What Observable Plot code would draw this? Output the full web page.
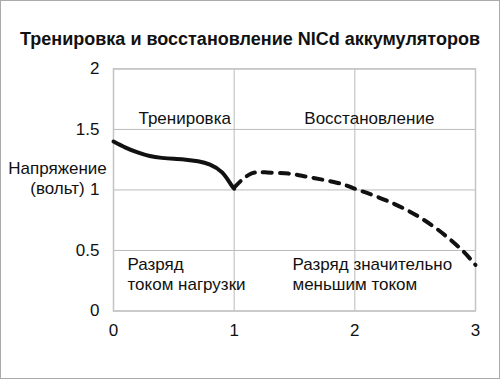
<!DOCTYPE html>
<html>
<head>
<meta charset="utf-8">
<script src="https://cdn.jsdelivr.net/npm/d3@7"></script>
<script src="https://cdn.jsdelivr.net/npm/@observablehq/plot@0.6"></script>
<style>
  html, body { margin: 0; padding: 0; background: white; }
  #wrap { position: relative; width: 500px; height: 379px; outline: 1px solid #aaa; outline-offset: -1px; overflow: hidden; font-family: "Liberation Sans", Arial, sans-serif; }
  #title { position: absolute; left: 0; top: 28px; width: 500px; text-align: center; font-weight: bold; font-size: 18px; line-height: 22px; color: #111; }
  #chart { position: absolute; left: 0; top: 55px; }
</style>
</head>
<body>
<div id="wrap">
  <div id="title">Тренировка и восстановление NICd аккумуляторов</div>
  <div id="chart"></div>
</div>
<script>
// Training discharge (solid)
const trainX = [0, 0.1, 0.2, 0.3, 0.4, 0.5, 0.6, 0.7, 0.8, 0.9, 0.97, 1.0];
const trainY = [1.40, 1.35, 1.31, 1.28, 1.265, 1.257, 1.25, 1.237, 1.21, 1.145, 1.05, 1.01];
// Recovery discharge (dashed)
const recX = [1.0, 1.13, 1.27, 1.45, 1.6, 1.85, 2.0, 2.15, 2.4, 2.65, 2.87, 3.0];
const recY = [1.02, 1.13, 1.145, 1.135, 1.11, 1.06, 1.01, 0.957, 0.85, 0.70, 0.52, 0.38];
// Axis ticks
const xTicks = [0, 1, 2, 3];
const yTicks = [0, 0.5, 1, 1.5, 2];
// Annotations
const notes = [
  {x: 0.59, y: 1.59, text: "Тренировка", anchor: "middle"},
  {x: 2.12, y: 1.59, text: "Восстановление", anchor: "middle"},
  {x: 0.116, y: 0.306, text: "Разряд\nтоком нагрузки", anchor: "start"},
  {x: 1.483, y: 0.306, text: "Разряд значительно\nменьшим током", anchor: "start"}
];
const yLabel = "Напряжение\n(вольт)";
const yLabelPos = 1.10;

const train = trainX.map((x, i) => ({x, y: trainY[i]}));
const rec = recX.map((x, i) => ({x, y: recY[i]}));

const plot = Plot.plot({
  width: 500,
  height: 324,
  marginLeft: 113,
  marginRight: 25,
  marginTop: 13.4,
  marginBottom: 68.5,
  style: {fontFamily: "'Liberation Sans', Arial, sans-serif", fontSize: "17px", color: "#111", background: "transparent", overflow: "visible"},
  x: {domain: [0, 3], ticks: xTicks, tickSize: 0, tickPadding: 13, label: null, tickFormat: d => String(d)},
  y: {domain: [0, 2], ticks: yTicks, tickSize: 0, tickPadding: 14, label: null, tickFormat: d => String(d)},
  marks: [
    Plot.ruleX(xTicks, {stroke: "#bbb", strokeWidth: 1}),
    Plot.ruleY(yTicks, {stroke: "#bbb", strokeWidth: 1}),
    Plot.frame({stroke: "#c4c4c4", strokeWidth: 1.5}),
    Plot.text(notes.filter(d => d.anchor === "middle"), {x: "x", y: "y", text: "text", textAnchor: "middle", fill: "#111"}),
    Plot.text(notes.filter(d => d.anchor === "start"), {x: "x", y: "y", text: "text", textAnchor: "start", lineHeight: 1.18, fill: "#111"}),
    Plot.text([yLabel], {frameAnchor: "left", y: () => yLabelPos, dx: -56, text: d => d, textAnchor: "middle", lineHeight: 1.18, fill: "#111"}),
    Plot.line(train, {x: "x", y: "y", curve: "natural", stroke: "#111", strokeWidth: 4}),
    Plot.line(rec, {x: "x", y: "y", curve: "natural", stroke: "#111", strokeWidth: 4, strokeDasharray: "9,8"}),
    Plot.axisX({ticks: xTicks, tickSize: 0, tickPadding: 13, tickFormat: d => String(d), label: null}),
    Plot.axisY({ticks: yTicks, tickSize: 0, tickPadding: 14, tickFormat: d => String(d), label: null})
  ]
});
document.getElementById("chart").appendChild(plot);
</script>
</body>
</html>
